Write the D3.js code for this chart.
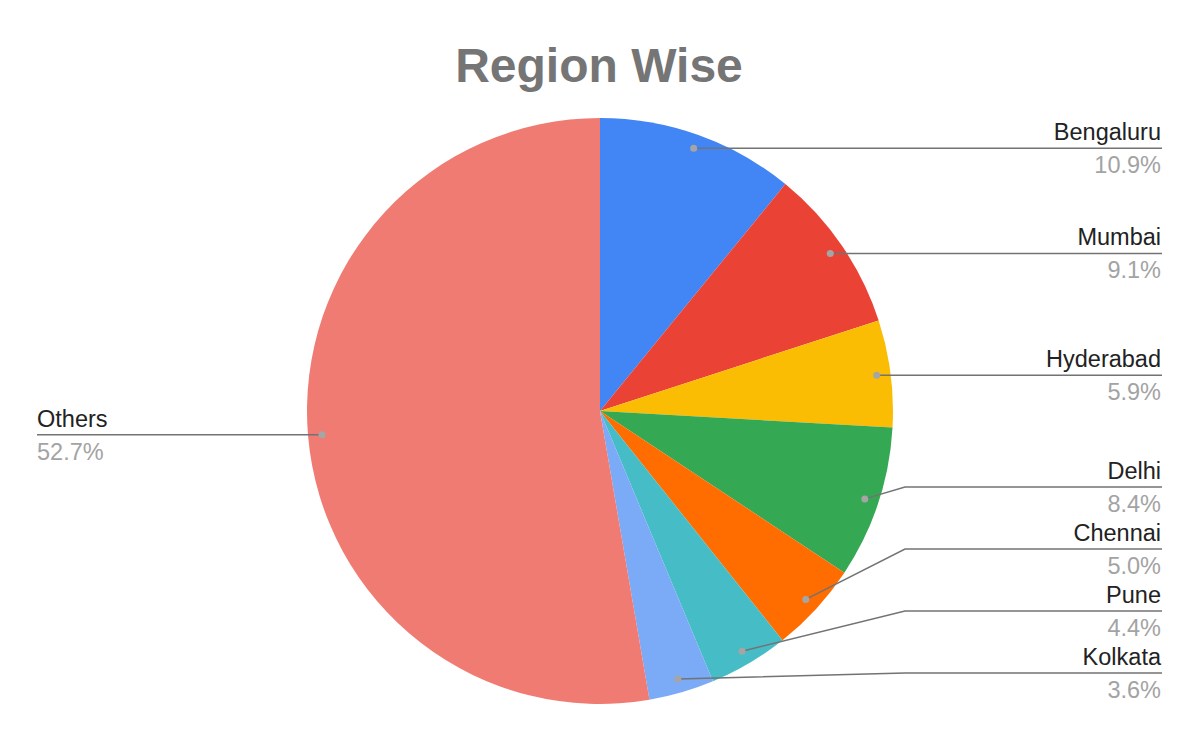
<!DOCTYPE html>
<html>
<head>
<meta charset="utf-8">
<script src="https://cdn.jsdelivr.net/npm/d3@7"></script>
<style>
  body { margin: 0; background: #fff; }
  svg { display: block; font-family: "Liberation Sans", Arial, sans-serif; }
</style>
</head>
<body>
<script>
// chart data
const regions = ["Bengaluru", "Mumbai", "Hyderabad", "Delhi", "Chennai", "Pune", "Kolkata", "Others"];
const shares = [10.9, 9.1, 5.9, 8.4, 5.0, 4.4, 3.6, 52.7];
const sliceColors = ["#4285f4", "#ea4335", "#fbbc04", "#34a853", "#ff6d01", "#46bdc6", "#7baaf7", "#f07b72"];
const chartTitle = "Region Wise";

const width = 1200, height = 742;
const cx = 600, cy = 411, radius = 293;
const dotR = 279;          // where the leader line starts inside the slice
const rightEdge = 1162, leftEdge = 37, elbowX = 905;
const labelGap = 62, labelBottom = 673;

const svg = d3.select("body").append("svg")
    .attr("width", width)
    .attr("height", height);

svg.append("text")
    .attr("x", 599)
    .attr("y", 82)
    .attr("text-anchor", "middle")
    .attr("font-size", 48)
    .attr("font-weight", "bold")
    .attr("fill", "#757575")
    .text(chartTitle);

const pie = d3.pie().sort(null).value(d => d)(shares);
const arc = d3.arc().innerRadius(0).outerRadius(radius);

const g = svg.append("g").attr("transform", `translate(${cx},${cy})`);

g.selectAll("path")
  .data(pie)
  .enter().append("path")
    .attr("d", arc)
    .attr("fill", (d, i) => sliceColors[i]);

// leader dot positions
var labels = pie.map(function(d, i) {
    var a = (d.startAngle + d.endAngle) / 2;
    var x = cx + dotR * Math.sin(a);
    var y = cy - dotR * Math.cos(a);
    return { name: regions[i], pct: shares[i].toFixed(1) + "%", x: x, y: y, ly: y, right: x >= cx };
});

// push right side labels apart, bottom up
var rightLabels = labels.filter(l => l.right);
for (var i = rightLabels.length - 1; i >= 0; i--) {
    var limit = (i == rightLabels.length - 1) ? labelBottom : rightLabels[i + 1].ly - labelGap;
    rightLabels[i].ly = Math.min(rightLabels[i].ly, limit);
}

labels.forEach(function(l) {
    var pts;
    if (l.right) {
        if (Math.abs(l.ly - l.y) < 1) {
            pts = [[l.x, l.y], [rightEdge, l.ly]];
        } else {
            pts = [[l.x, l.y], [elbowX, l.ly], [rightEdge, l.ly]];
        }
    } else {
        pts = [[l.x, l.y], [leftEdge, l.ly]];
    }
    svg.append("path")
        .attr("d", d3.line()(pts))
        .attr("fill", "none")
        .attr("stroke", "#737373")
        .attr("stroke-width", 1.5);
    svg.append("circle")
        .attr("cx", l.x)
        .attr("cy", l.y)
        .attr("r", 3.5)
        .attr("fill", "#a5a5a5");

    var tx = l.right ? rightEdge - 1 : leftEdge;
    var anchor = l.right ? "end" : "start";
    svg.append("text")
        .attr("x", tx)
        .attr("y", l.ly - 8)
        .attr("text-anchor", anchor)
        .attr("font-size", 23.5)
        .attr("fill", "#222222")
        .text(l.name);
    svg.append("text")
        .attr("x", tx)
        .attr("y", l.ly + 25)
        .attr("text-anchor", anchor)
        .attr("font-size", 23.5)
        .attr("fill", "#a3a3a3")
        .text(l.pct);
});
</script>
</body>
</html>
